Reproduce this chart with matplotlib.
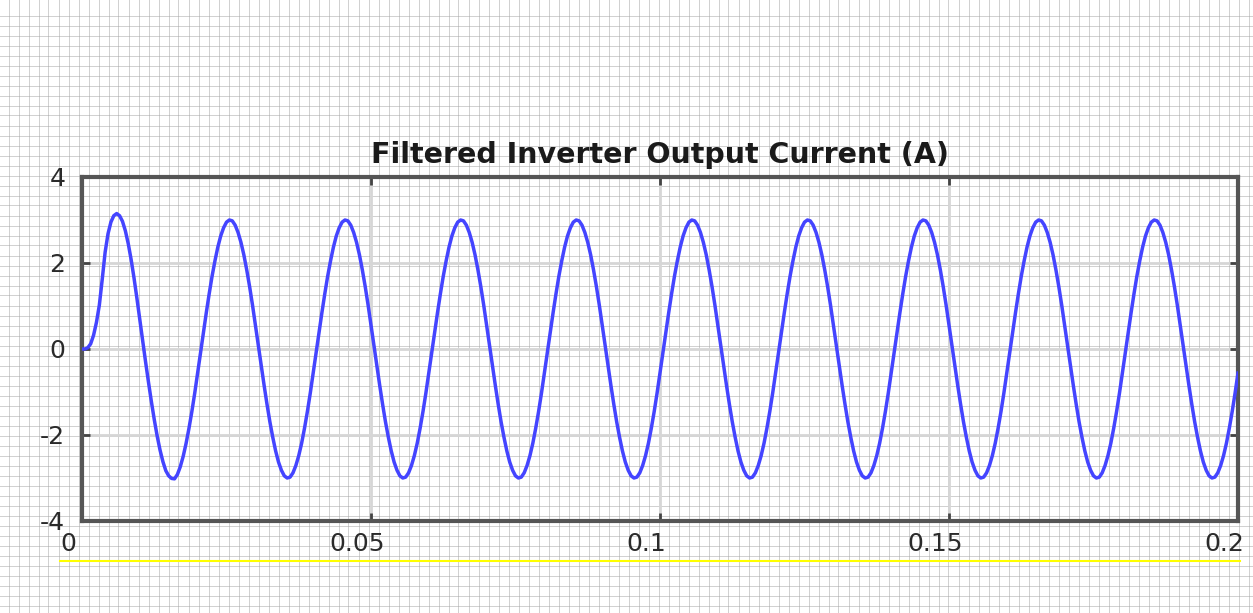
import numpy as np
import matplotlib
matplotlib.use('Agg')
import matplotlib.pyplot as plt
from matplotlib.lines import Line2D
from matplotlib.transforms import ScaledTranslation

plt.rcParams['axes.unicode_minus'] = False

sample_step = 0.0005
# start-up cycle (0 .. 20 ms)
cycle_01 = [0.0, 0.0, 0.03, 0.12, 0.32, 0.62, 1.02, 1.62, 2.25, 2.68,
            2.95, 3.10, 3.15, 3.10, 2.97, 2.75, 2.45, 2.08, 1.65, 1.18,
            0.68, 0.19, -0.30, -0.77, -1.22, -1.64, -2.02, -2.35, -2.62, -2.83,
            -2.95, -3.01, -3.02, -2.92, -2.74, -2.50, -2.20, -1.85, -1.46, -1.03]
# steady-state cycles (20 .. 200 ms)
cycle_02 = [-0.56, -0.09, 0.38, 0.84, 1.28, 1.69, 2.05, 2.37, 2.63, 2.82,
            2.95, 3.00, 2.98, 2.88, 2.71, 2.48, 2.19, 1.84, 1.45, 1.02,
            0.56, 0.09, -0.38, -0.84, -1.28, -1.69, -2.05, -2.37, -2.63, -2.82,
            -2.95, -3.00, -2.98, -2.88, -2.71, -2.48, -2.19, -1.84, -1.45, -1.02]
cycle_03 = [-0.56, -0.09, 0.38, 0.84, 1.28, 1.69, 2.05, 2.37, 2.63, 2.82,
            2.95, 3.00, 2.98, 2.88, 2.71, 2.48, 2.19, 1.84, 1.45, 1.02,
            0.56, 0.09, -0.38, -0.84, -1.28, -1.69, -2.05, -2.37, -2.63, -2.82,
            -2.95, -3.00, -2.98, -2.88, -2.71, -2.48, -2.19, -1.84, -1.45, -1.02]
cycle_04 = [-0.56, -0.09, 0.38, 0.84, 1.28, 1.69, 2.05, 2.37, 2.63, 2.82,
            2.95, 3.00, 2.98, 2.88, 2.71, 2.48, 2.19, 1.84, 1.45, 1.02,
            0.56, 0.09, -0.38, -0.84, -1.28, -1.69, -2.05, -2.37, -2.63, -2.82,
            -2.95, -3.00, -2.98, -2.88, -2.71, -2.48, -2.19, -1.84, -1.45, -1.02]
cycle_05 = [-0.56, -0.09, 0.38, 0.84, 1.28, 1.69, 2.05, 2.37, 2.63, 2.82,
            2.95, 3.00, 2.98, 2.88, 2.71, 2.48, 2.19, 1.84, 1.45, 1.02,
            0.56, 0.09, -0.38, -0.84, -1.28, -1.69, -2.05, -2.37, -2.63, -2.82,
            -2.95, -3.00, -2.98, -2.88, -2.71, -2.48, -2.19, -1.84, -1.45, -1.02]
cycle_06 = [-0.56, -0.09, 0.38, 0.84, 1.28, 1.69, 2.05, 2.37, 2.63, 2.82,
            2.95, 3.00, 2.98, 2.88, 2.71, 2.48, 2.19, 1.84, 1.45, 1.02,
            0.56, 0.09, -0.38, -0.84, -1.28, -1.69, -2.05, -2.37, -2.63, -2.82,
            -2.95, -3.00, -2.98, -2.88, -2.71, -2.48, -2.19, -1.84, -1.45, -1.02]
cycle_07 = [-0.56, -0.09, 0.38, 0.84, 1.28, 1.69, 2.05, 2.37, 2.63, 2.82,
            2.95, 3.00, 2.98, 2.88, 2.71, 2.48, 2.19, 1.84, 1.45, 1.02,
            0.56, 0.09, -0.38, -0.84, -1.28, -1.69, -2.05, -2.37, -2.63, -2.82,
            -2.95, -3.00, -2.98, -2.88, -2.71, -2.48, -2.19, -1.84, -1.45, -1.02]
cycle_08 = [-0.56, -0.09, 0.38, 0.84, 1.28, 1.69, 2.05, 2.37, 2.63, 2.82,
            2.95, 3.00, 2.98, 2.88, 2.71, 2.48, 2.19, 1.84, 1.45, 1.02,
            0.56, 0.09, -0.38, -0.84, -1.28, -1.69, -2.05, -2.37, -2.63, -2.82,
            -2.95, -3.00, -2.98, -2.88, -2.71, -2.48, -2.19, -1.84, -1.45, -1.02]
cycle_09 = [-0.56, -0.09, 0.38, 0.84, 1.28, 1.69, 2.05, 2.37, 2.63, 2.82,
            2.95, 3.00, 2.98, 2.88, 2.71, 2.48, 2.19, 1.84, 1.45, 1.02,
            0.56, 0.09, -0.38, -0.84, -1.28, -1.69, -2.05, -2.37, -2.63, -2.82,
            -2.95, -3.00, -2.98, -2.88, -2.71, -2.48, -2.19, -1.84, -1.45, -1.02]
cycle_10 = [-0.56, -0.09, 0.38, 0.84, 1.28, 1.69, 2.05, 2.37, 2.63, 2.82,
            2.95, 3.00, 2.98, 2.88, 2.71, 2.48, 2.19, 1.84, 1.45, 1.02,
            0.56, 0.09, -0.38, -0.84, -1.28, -1.69, -2.05, -2.37, -2.63, -2.82,
            -2.95, -3.00, -2.98, -2.88, -2.71, -2.48, -2.19, -1.84, -1.45, -1.02]
last_sample = [-0.56]

current_a = np.array(cycle_01 + cycle_02 + cycle_03 + cycle_04 + cycle_05 +
                     cycle_06 + cycle_07 + cycle_08 + cycle_09 + cycle_10 +
                     last_sample)
time_s = np.arange(len(current_a)) * sample_step

xtick_vals = [0, 0.05, 0.1, 0.15, 0.2]
xtick_text = ['0', '0.05', '0.1', '0.15', '0.2']
ytick_vals = [-4, -2, 0, 2, 4]

W, H = 1253, 613
fig = plt.figure(figsize=(W / 100, H / 100), dpi=100)
fig.patch.set_facecolor('white')

# dotted "paper" behind the screenshot
for yp in range(15, H, 10):
    fig.add_artist(Line2D([0, 1], [1 - (yp + 0.5) / H] * 2, transform=fig.transFigure,
                          color='#a4a4a4', lw=0.72, ls=(0, (1, 1)), zorder=-5))
for xp in range(8, W, 10):
    fig.add_artist(Line2D([(xp + 0.5) / W] * 2, [0, 1], transform=fig.transFigure,
                          color='#a4a4a4', lw=0.72, ls=(0, (1, 1)), zorder=-5))
# yellow underline
fig.add_artist(Line2D([60 / W, 1240 / W], [1 - 560.5 / H] * 2, transform=fig.transFigure,
                      color='#ffff00', lw=1.5, zorder=-4))

ax = fig.add_axes([82 / W, 1 - 521 / H, (1238 - 82) / W, (521 - 177) / H])
ax.set_facecolor('none')
ax.plot(time_s, current_a, color='#4444ff', lw=2.5, zorder=3)

ax.set_xlim(0, 0.2)
ax.set_ylim(-4, 4)
ax.set_xticks(xtick_vals)
ax.set_xticklabels(xtick_text)
ax.set_yticks(ytick_vals)
ax.set_axisbelow(True)
ax.grid(True, color='#d6d6d6', lw=2)
ax.tick_params(direction='in', length=6, width=2, colors='#444444', labelcolor='#2a2a2a',
               labelsize=18, top=True, right=True)
ax.tick_params(axis='x', pad=8)
ax.tick_params(axis='y', pad=12)
for sp in ax.spines.values():
    sp.set_color('#555555')
    sp.set_linewidth(3)

# x labels sit a little left of their ticks in the original
shift = ScaledTranslation(-14 / 100, 0, fig.dpi_scale_trans)
for lab in ax.get_xticklabels():
    lab.set_transform(lab.get_transform() + shift)

ax.set_title('Filtered Inverter Output Current (A)', fontsize=20.5, fontweight='bold',
             color='#1a1a1a', pad=10)

fig.savefig('out.png', dpi=100)
